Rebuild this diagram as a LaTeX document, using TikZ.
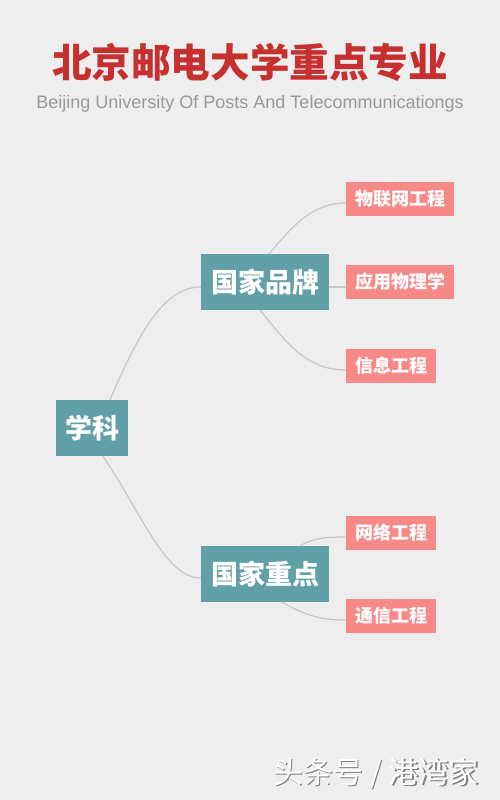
\documentclass[tikz,border=0pt]{standalone}
\usepackage{fontspec}
\setmainfont{Liberation Sans}
\newfontfamily\cjk{Noto Sans CJK SC}
\definecolor{bg}{HTML}{EEEEEE}
\definecolor{teal}{HTML}{62A0A8}
\definecolor{pinkbox}{HTML}{F78A88}
\definecolor{titlered}{HTML}{C6302F}
\definecolor{subgrey}{HTML}{999999}
\definecolor{linegrey}{HTML}{C8C8C8}
\tikzset{
  mainbox/.style={fill=teal, text=white, inner sep=0pt, minimum height=56pt, font=\cjk\bfseries\fontsize{27}{30}\selectfont},
  leafbox/.style={fill=pinkbox, text=white, inner sep=0pt, minimum height=34pt, font=\cjk\bfseries\fontsize{18}{20}\selectfont},
  conn/.style={draw=linegrey, line width=1.2pt}
}
\begin{document}
\begin{tikzpicture}[x=1pt,y=-1pt]
\fill[bg] (0,0) rectangle (500,800);
\useasboundingbox (0,0) rectangle (500,800);
\node[text=titlered, font=\cjk\bfseries\fontsize{39.6}{44}\selectfont] (title) at (250,62) {北京邮电大学重点专业};
\node[text=subgrey, font=\fontsize{18}{20}\selectfont] (sub) at (250,104) {Beijing University Of Posts And Telecommunicationgs};
\node[mainbox, minimum width=72pt] (xk) at (92,428) {学科};
\node[mainbox, minimum width=128pt] (gp) at (265,282) {国家品牌};
\node[mainbox, minimum width=128pt] (gz) at (265,574) {国家重点};
\node[leafbox, minimum width=108pt] (wl) at (400,199) {物联网工程};
\node[leafbox, minimum width=108pt] (yy) at (400,282) {应用物理学};
\node[leafbox, minimum width=90pt] (xx) at (391,366) {信息工程};
\node[leafbox, minimum width=90pt] (wlg) at (391,533) {网络工程};
\node[leafbox, minimum width=90pt] (tx) at (391,616) {通信工程};
\draw[conn] ([xshift=18pt]xk.north) .. controls +(30,-70) and +(-36,0) .. ([yshift=-5pt]gp.west);
\draw[conn] ([xshift=11pt]xk.south) .. controls +(37,54) and +(-36,0) .. ([yshift=-4pt]gz.west);
\draw[conn] ([xshift=4pt]gp.north) .. controls +(21,-24) and +(-36,0) .. ([yshift=-4pt]wl.west);
\draw[conn] ([yshift=-5pt]gp.east) -- ([yshift=-5pt]yy.west);
\draw[conn] ([xshift=-5pt]gp.south) .. controls +(25,30) and +(-41,0) .. ([yshift=-4pt]xx.west);
\draw[conn] ([xshift=35pt]gz.north) .. controls +(15,-8) and +(-21,0) .. ([yshift=-4pt]wlg.west);
\draw[conn] ([xshift=17pt]gz.south) .. controls +(23,13) and +(-26,0) .. ([yshift=-4pt]tx.west);
\node[text=gray, font=\cjk\fontsize{30}{34}\selectfont] (wmshadow) at (377.5,774.5) {头条号 / 港湾家};
\node[text=white, font=\cjk\fontsize{30}{34}\selectfont] (wm) at (376,773) {头条号 / 港湾家};
\end{tikzpicture}
\end{document}
